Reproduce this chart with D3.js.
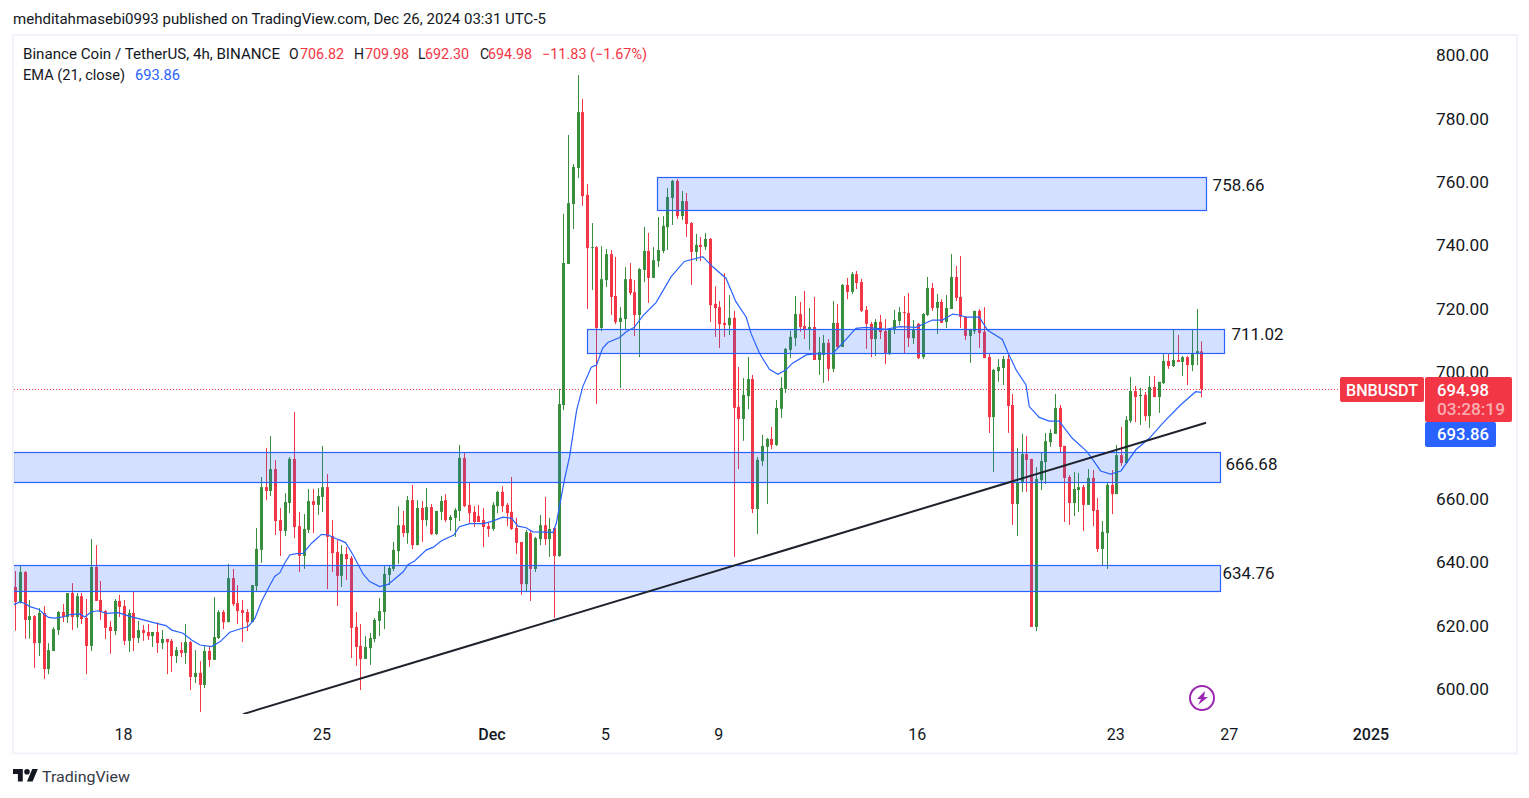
<!DOCTYPE html>
<html>
<head>
<meta charset="utf-8">
<title>BNBUSDT</title>
<script src="https://cdn.jsdelivr.net/npm/d3@7"></script>
<style>
	html, body { margin: 0; padding: 0; background: #fff; overflow: hidden; }
	svg { display: block; }
	text { font-family: Roboto, "Noto Sans", sans-serif; fill: #131722; }
</style>
</head>
<body>
<div id="chart"></div>
<script>
var opens = [
	632.5,627.8,637.2,622.1,623.3,614.8,624.3,606.6,612.3,618.9,
	624.6,623.0,630.6,623.0,629.6,622.7,613.9,638.8,628.4,624.9,
	619.9,618.6,628.1,626.5,615.5,624.3,616.4,618.9,618.3,617.0,
	618.3,614.8,616.1,615.5,610.7,612.6,611.7,615.1,604.1,605.4,
	601.6,612.3,609.5,616.4,624.6,621.4,635.3,627.4,625.2,624.6,
	621.4,632.8,644.2,664.0,662.8,669.7,653.6,650.2,659.0,672.9,
	651.7,642.3,650.5,659.6,658.4,660.9,664.0,648.6,643.5,636.0,
	642.9,641.6,619.9,613.9,609.8,613.2,616.1,621.8,624.6,636.3,
	638.2,643.8,652.0,649.5,659.9,645.7,657.4,653.6,657.7,649.2,
	656.2,659.9,653.6,654.3,656.5,673.2,658.4,656.2,654.9,653.6,
	651.7,650.8,658.0,662.5,658.4,656.2,651.1,646.7,633.4,649.5,
	638.2,647.6,652.0,647.6,651.1,642.3,689.9,734.4,753.3,764.7,
	782.3,756.2,739.4,739.7,714.2,729.3,737.5,724.3,716.1,717.0,
	729.6,725.5,718.3,732.5,738.5,730.0,735.3,738.5,746.0,755.2,
	760.6,749.5,754.2,747.3,738.2,740.4,739.8,742.3,721.8,720.8,
	715.8,715.1,717.4,689.3,685.5,692.7,698.1,657.1,672.2,676.7,
	679.2,677.3,688.7,695.0,707.3,711.0,718.6,714.8,713.6,714.5,
	704.1,705.7,709.5,701.3,715.8,708.2,727.8,725.6,731.2,728.7,
	719.9,715.5,710.7,716.1,713.2,706.0,713.6,716.4,719.2,718.9,
	711.0,715.5,705.0,718.3,726.8,720.5,722.4,716.1,720.2,730.3,
	724.0,717.7,711.7,713.2,719.6,713.0,705.1,686.1,700.6,701.6,
	704.4,689.9,658.7,665.3,674.4,672.9,619.9,666.2,671.9,678.2,
	680.8,689.0,677.0,667.2,659.0,663.1,664.0,658.4,666.9,656.8,
	644.5,649.5,664.7,661.8,674.1,671.6,684.9,694.3,692.7,693.1,
	686.4,695.6,692.4,696.8,703.8,702.2,704.1,703.5,705.0,702.5,706.3,706.82
];
var highs = [
	637.5,639.2,637.5,628.4,623.6,625.8,626.5,614.8,619.8,624.9,
	627.1,630.6,633.7,630.6,630.6,628.7,647.6,645.7,634.4,625.2,
	621.8,628.7,630.0,628.4,625.5,631.0,621.8,620.5,620.8,618.3,
	621.4,618.9,616.1,616.1,613.6,615.1,620.8,615.5,612.6,609.1,
	613.9,613.9,629.3,625.2,625.2,639.8,638.2,633.1,628.4,625.5,
	633.1,651.1,667.2,676.3,680.1,672.5,657.4,662.1,673.5,687.7,
	656.2,655.5,663.4,663.4,663.7,677.0,668.1,653.6,647.3,645.7,
	645.1,642.3,624.6,620.8,617.0,618.0,622.7,629.0,639.4,639.4,
	646.7,658.0,656.5,661.2,664.7,659.9,659.6,663.7,658.7,656.5,
	661.2,661.8,655.2,657.4,677.3,674.8,665.3,658.0,658.4,657.4,
	653.0,659.3,662.8,664.3,659.0,667.2,654.3,646.7,650.5,650.5,
	648.3,655.2,660.9,654.3,651.4,695.0,750.2,775.1,765.9,794.0,
	786.4,759.6,747.3,740.0,740.0,739.1,738.8,736.6,720.8,733.4,
	734.7,729.3,733.1,746.1,744.2,739.7,749.2,749.5,758.4,760.9,
	761.2,757.4,756.8,747.6,743.9,742.9,744.2,742.6,727.4,722.7,
	731.5,724.6,719.6,701.9,698.4,705.1,699.4,673.5,680.5,679.5,
	683.0,691.5,698.7,707.9,713.3,724.3,722.4,725.9,720.5,724.0,
	711.4,712.0,710.7,722.7,721.8,728.1,730.0,731.9,732.2,729.7,
	721.1,716.1,717.0,718.3,717.0,714.2,719.9,720.8,724.3,725.2,
	716.7,715.8,718.9,730.3,728.4,724.9,723.3,724.6,737.5,733.8,
	736.9,718.0,713.9,719.6,720.2,720.8,706.3,701.3,704.4,705.4,
	705.7,693.4,676.3,680.8,680.1,672.9,670.3,675.1,681.1,682.3,
	693.4,689.9,677.0,667.8,668.8,668.5,664.7,669.7,669.4,660.6,
	653.3,665.6,669.4,677.3,683.0,686.4,698.8,695.9,695.3,694.0,
	699.1,699.1,697.2,706.3,706.0,713.6,712.0,705.4,705.4,713.6,720.2,709.98
];
var lows = [
	618.7,627.3,616.2,616.2,607.0,610.7,603.5,605.0,612.3,617.3,
	621.4,621.1,618.9,619.6,620.8,605.0,612.3,628.1,622.1,616.1,
	611.4,617.3,623.0,614.2,612.0,612.3,614.8,615.5,615.8,613.6,
	611.7,612.9,605.0,605.7,608.5,610.4,608.2,600.0,602.2,593.1,
	600.6,607.3,609.5,616.1,619.2,621.4,626.5,620.8,615.1,618.6,
	621.4,631.2,640.1,659.9,661.2,648.9,642.3,648.6,655.8,647.9,
	637.2,638.2,649.5,649.5,655.2,656.2,631.8,637.2,626.5,632.5,
	634.7,610.1,607.6,600.0,609.8,607.9,615.1,617.0,619.2,633.1,
	637.5,639.8,648.3,646.1,644.5,645.7,646.7,651.7,648.9,648.9,
	653.6,653.0,650.2,648.3,653.3,657.7,652.7,651.4,653.0,645.1,
	648.3,650.2,655.8,656.2,651.7,650.5,642.9,630.0,631.2,628.1,
	637.2,645.7,645.7,642.0,622.7,642.0,688.3,734.4,745.4,761.5,
	752.7,720.2,726.2,690.2,713.2,727.1,718.3,715.4,695.3,713.6,
	724.6,711.7,705.0,728.7,722.1,730.0,733.4,737.8,738.8,746.7,
	748.6,748.3,742.9,727.8,735.3,735.3,738.8,716.1,711.4,707.9,
	711.4,712.0,642.0,669.7,678.6,688.6,655.8,649.2,670.7,658.7,
	676.0,677.0,685.8,693.7,704.7,708.5,713.0,710.7,707.3,704.1,
	699.4,696.9,697.5,700.3,707.9,708.2,723.3,724.9,726.5,719.2,
	707.6,705.0,705.4,710.7,702.8,705.7,712.3,715.1,706.0,708.2,
	709.2,704.4,704.4,718.0,719.6,712.3,715.8,714.2,720.2,722.7,
	714.2,710.4,703.2,712.3,707.9,704.7,681.1,668.8,697.2,696.2,
	681.1,652.1,648.6,662.5,662.5,619.9,618.6,663.1,665.0,676.7,
	680.8,674.8,653.0,652.1,654.9,656.2,650.2,658.4,651.7,643.5,
	639.4,638.2,655.5,661.8,670.7,671.6,684.2,684.5,683.6,684.9,
	682.7,692.4,687.4,696.5,701.3,701.9,703.5,699.1,696.2,700.6,702.5,692.30
];
var closes = [
	627.8,637.2,622.1,623.3,614.8,624.3,606.6,612.6,619.2,624.6,
	623.0,630.6,623.0,629.6,622.4,613.9,638.8,628.1,624.6,619.6,
	618.6,628.1,626.2,615.5,624.3,616.4,618.9,618.0,617.0,618.3,
	614.8,616.1,615.1,610.7,612.6,611.7,615.1,604.1,605.4,601.6,
	612.3,609.5,616.7,624.6,621.4,635.3,627.1,624.9,624.3,621.4,
	633.1,644.5,664.0,662.8,669.7,653.3,650.2,659.3,672.9,651.4,
	642.3,650.8,659.6,658.4,661.2,664.0,648.3,643.2,636.0,642.9,
	641.3,619.6,613.6,609.8,613.6,616.4,622.1,624.9,636.6,638.5,
	644.2,652.0,649.5,659.9,645.7,657.4,653.6,657.7,649.2,656.5,
	659.6,653.6,654.6,656.8,673.2,658.0,655.8,653.0,653.0,651.4,
	650.8,658.4,662.5,658.0,655.8,650.8,646.4,633.4,649.8,638.2,
	647.9,652.0,647.6,650.8,642.3,690.2,734.7,753.6,765.0,782.3,
	755.8,739.4,739.7,714.2,729.6,737.5,724.0,716.1,717.4,729.6,
	725.2,718.3,732.8,738.5,730.0,735.6,738.8,746.4,755.5,760.6,
	749.5,754.2,747.0,738.2,740.4,739.8,742.3,721.4,720.5,715.4,
	715.1,717.4,689.0,685.5,693.1,698.1,657.1,672.6,677.0,679.2,
	677.3,689.0,695.3,707.6,711.4,718.6,714.5,713.6,714.5,704.1,
	706.6,709.5,701.3,715.8,708.2,727.8,725.6,731.2,728.4,719.6,
	715.5,710.7,716.1,712.9,706.0,713.9,716.7,719.2,718.9,711.0,
	713.9,704.7,718.6,726.8,720.5,722.4,715.8,720.5,730.3,723.7,
	717.7,711.7,713.9,719.6,712.6,704.7,686.1,701.0,701.9,704.4,
	689.6,658.7,665.6,674.4,672.6,619.9,666.6,672.2,678.5,681.1,
	689.0,676.7,666.9,659.0,663.4,664.0,658.4,666.9,656.5,644.5,
	649.9,664.7,661.8,674.1,671.6,685.2,694.3,692.4,693.1,686.4,
	695.6,692.4,697.2,703.8,702.2,704.1,703.5,705.0,702.5,706.3,706.9,694.98
];

// EMA(21): candle position, value
var emaPos = [
	0.6,2.0,3.05,4.1,5.9,6.9,8.0,9.4,11.2,12.6,14.7,15.7,17.1,18.6,20.3,22.8,24.2,26.0,28.1,30.9,
	32.9,34.1,36.5,38.3,40.1,42.5,44.3,46.4,48.2,50.3,51.7,53.1,54.9,55.9,57.0,58.0,59.1,60.5,61.9,63.7,
	65.8,67.2,69.3,70.9,72.5,74.6,76.0,78.1,79.9,81.6,83.1,84.1,85.5,88.0,89.4,91.2,93.8,95.0,97.2,100.0,
	101.7,104.2,106.0,107.4,109.1,110.5,114.8,115.5,117.2,118.3,119.8,121.1,122.9,124.0,125.3,126.4,128.9,130.3,132.0,133.8,
	136.6,139.8,142.6,146.5,148.6,151.4,153.5,155.7,156.7,158.5,160.6,162.4,164.1,165.5,168.4,170.1,174.0,176.1,178.9,181.0,
	185.3,188.1,191.6,195.1,197.2,199.4,200.8,202.2,205.0,206.8,209.9,211.0,212.8,214.9,215.6,217.7,219.8,221.9,224.7,227.6,
	228.6,230.7,232.8,235.0,238.1,241.0,243.8,247.6,250.8,252
];
var emaVal = [
	626.9,627.8,627.3,626.3,625.5,624.2,622.9,622.7,623.1,623.8,624.0,623.0,624.7,625.0,624.2,624.4,623.7,622.9,622.1,621.0,
	620.3,618.9,617.9,615.8,614.2,613.7,615.2,618.2,619.1,620.0,622.6,627.9,633.1,635.8,637.0,640.0,642.6,643.0,643.1,646.3,
	649.1,648.9,647.5,646.5,642.6,636.6,634.2,632.6,633.3,635.4,637.3,639.5,640.7,644.2,645.0,647.1,648.9,651.5,652.5,652.5,
	653.1,654.5,654.2,651.7,651.2,649.9,649.7,652.6,666.2,673.6,688.3,695.7,701.8,702.5,707.8,709.6,711.2,713.0,714.4,718.0,
	722.2,730.4,735.2,736.7,733.5,729.9,722.5,717.6,712.5,706.2,701.2,699.6,701.0,703.1,705.7,706.0,706.2,709.4,714.1,714.4,
	713.8,714.6,714.4,716.7,716.7,718.6,718.3,717.6,717.6,713.5,710.6,706.7,701.0,696.2,689.4,686.0,684.8,684.8,679.4,675.5,
	673.6,669.1,668.1,669.1,675.7,679.4,684.1,689.9,694.1,693.86
];

var priceTicks = [600,620,640,660,680,700,720,740,760,780,800];
var timeTickPos = [24,66,102,126,150,192,234,258,288];
var timeTickLabels = ["18","25","Dec","5","9","16","23","27","2025"];
var boldTicks = ["Dec","2025"];

// zones: candle position start/end, price top/bottom, label
var zoneStart = [136.8,122.0,0.51,0.51];
var zoneEnd = [253.0,256.8,255.9,255.9];
var zoneTop = [761.7,713.9,675.1,639.4];
var zoneBottom = [751.3,706.3,665.6,631.2];
var zoneLabels = ["758.66","711.02","666.68","634.76"];
var zoneLabelPos = [254.4,258.4,257.1,256.5];
var zoneLabelPrice = [759.3,712.3,671.3,636.9];

var trendPos = [49.2,253.0];
var trendPrice = [592.4,684.3];

var lastPrice = 694.98;
var emaLast = 693.86;

var width = 1529, height = 798;
var up = "#388e3c", down = "#f23645", blue = "#2962ff";

var x = d3.scaleLinear().domain([1,252]).range([15.3,1201.3]);
var y = d3.scaleLinear().domain([600,800]).range([690,56]);

var svg = d3.select("#chart").append("svg")
	.attr("width", width)
	.attr("height", height);

// the published font is wider than anything installed, stretch to the same width
function fit(sel, len) {
	return sel.attr("textLength", len).attr("lengthAdjust", "spacingAndGlyphs");
}

fit(svg.append("text")
	.attr("x", 13).attr("y", 24)
	.style("font-size", "14px")
	.text("mehditahmasebi0993 published on TradingView.com, Dec 26, 2024 03:31 UTC-5"), 533);

// frame
svg.append("rect")
	.attr("x", 13).attr("y", 35)
	.attr("width", 1504).attr("height", 718.5)
	.attr("fill", "none")
	.attr("stroke", "#f0f3fa")
	.attr("stroke-width", 2);

svg.append("defs").append("clipPath").attr("id", "pane")
	.append("rect")
	.attr("x", 14).attr("y", 36)
	.attr("width", 1502).attr("height", 678);

var pane = svg.append("g").attr("clip-path", "url(#pane)");

// last price line
pane.append("line")
	.attr("x1", 14).attr("x2", 1340)
	.attr("y1", Math.round(y(lastPrice)) + 0.5).attr("y2", Math.round(y(lastPrice)) + 0.5)
	.attr("stroke", down)
	.attr("stroke-dasharray", "1 2");

var candles = d3.range(opens.length).map(function(i) {
	return { pos: i + 1, o: opens[i], h: highs[i], l: lows[i], c: closes[i] };
});

pane.selectAll(".wick").data(candles).enter().append("rect")
	.attr("class", "wick")
	.attr("x", function(d) { return Math.round(x(d.pos)); })
	.attr("width", 1)
	.attr("y", function(d) { return y(d.h); })
	.attr("height", function(d) { return y(d.l) - y(d.h); })
	.attr("fill", function(d) { return d.c >= d.o ? up : down; });

pane.selectAll(".body").data(candles).enter().append("rect")
	.attr("class", "body")
	.attr("x", function(d) { return Math.round(x(d.pos)) - 1; })
	.attr("width", 3)
	.attr("y", function(d) { return y(Math.max(d.o, d.c)); })
	.attr("height", function(d) { return Math.max(1, Math.abs(y(d.o) - y(d.c))); })
	.attr("fill", function(d) { return d.c >= d.o ? up : down; });

var emaLine = d3.line()
	.x(function(d, i) { return x(emaPos[i]); })
	.y(function(d) { return y(d); });

pane.append("path")
	.attr("d", emaLine(emaVal))
	.attr("fill", "none")
	.attr("stroke", blue)
	.attr("stroke-width", 1.2);

zoneLabels.forEach(function(label, i) {
	var x1 = Math.round(x(zoneStart[i])), x2 = Math.round(x(zoneEnd[i]));
	pane.append("rect")
		.attr("x", x1 + 0.5)
		.attr("y", Math.round(y(zoneTop[i])) + 0.5)
		.attr("width", x2 - x1)
		.attr("height", Math.round(y(zoneBottom[i]) - y(zoneTop[i])))
		.attr("fill", blue)
		.attr("fill-opacity", 0.2)
		.attr("stroke", blue)
		.attr("stroke-width", 1.2);
	fit(pane.append("text")
		.attr("x", x(zoneLabelPos[i]))
		.attr("y", y(zoneLabelPrice[i]))
		.attr("dy", "0.35em")
		.style("font-size", "16px")
		.text(label), 52);
});

pane.append("line")
	.attr("x1", x(trendPos[0])).attr("y1", y(trendPrice[0]))
	.attr("x2", x(trendPos[1])).attr("y2", y(trendPrice[1]))
	.attr("stroke", "#1e222d")
	.attr("stroke-width", 2);

// axes
var yAxis = svg.append("g")
	.attr("transform", "translate(1489,-0.5)")
	.call(d3.axisLeft(y).tickValues(priceTicks).tickSize(0).tickPadding(0).tickFormat(d3.format(".2f")));
yAxis.select(".domain").remove();
yAxis.selectAll("text")
	.style("font-size", "16px")
	.style("font-family", "Roboto")
	.attr("textLength", 53)
	.attr("lengthAdjust", "spacingAndGlyphs");

var xAxis = svg.append("g")
	.attr("transform", "translate(-1,729)")
	.call(d3.axisBottom(x).tickValues(timeTickPos).tickSize(0).tickPadding(0)
		.tickFormat(function(d, i) { return timeTickLabels[i]; }));
xAxis.select(".domain").remove();
xAxis.selectAll("text")
	.style("font-size", "16px")
	.style("font-family", "Roboto")
	.style("font-weight", function(d, i) { return boldTicks.indexOf(timeTickLabels[i]) >= 0 ? 500 : 400; });

// price labels
function tag(x0, y0, w, h, fill) {
	svg.append("rect")
		.attr("x", x0).attr("y", y0)
		.attr("width", w).attr("height", h)
		.attr("rx", 2)
		.attr("fill", fill);
}
function tagText(x0, y0, str, opacity, len) {
	fit(svg.append("text")
		.attr("x", x0).attr("y", y0)
		.attr("dy", "0.35em")
		.style("font-size", "16px")
		.style("font-weight", 500)
		.style("fill", "#fff")
		.style("fill-opacity", opacity)
		.text(str), len);
}
tag(1340, 377, 84, 25, down);
tag(1425, 377, 87, 45, down);
tag(1425, 422, 71, 25, blue);
tagText(1346, 390, "BNBUSDT", 1, 72);
tagText(1437, 390, d3.format(".2f")(lastPrice), 1, 52);
tagText(1437, 409, "03:28:19", 0.6, 68);
tagText(1437, 434, d3.format(".2f")(emaLast), 1, 52);

// legend
var legend = svg.append("g").style("font-size", "14px");
fit(legend.append("text").attr("x", 23).attr("y", 59).text("Binance Coin / TetherUS, 4h, BINANCE"), 257);
var ohlcLabels = ["O","H","L","C"];
var ohlcValues = ["706.82","709.98","692.30","694.98"];
var ohlcX = [289,354,418,480];
var ohlcValX = [300,365,425,488];
ohlcLabels.forEach(function(l, i) {
	legend.append("text").attr("x", ohlcX[i]).attr("y", 59).text(l);
	fit(legend.append("text").attr("x", ohlcValX[i]).attr("y", 59).style("fill", down).text(ohlcValues[i]), 44);
});
fit(legend.append("text").attr("x", 542).attr("y", 59).style("fill", down).text("\u221211.83 (\u22121.67%)"), 105);
fit(legend.append("text").attr("x", 23).attr("y", 80).text("EMA (21, close)"), 102);
fit(legend.append("text").attr("x", 135).attr("y", 80).style("fill", blue).text("693.86"), 45);

// flash icon
var flash = svg.append("g").attr("transform", "translate(1202,698)");
flash.append("circle")
	.attr("r", 12)
	.attr("fill", "#fff")
	.attr("stroke", "#9c27b0")
	.attr("stroke-width", 2);
flash.append("path")
	.attr("d", "M3-7L-5 1h4l-3 6L6-1H2z")
	.attr("fill", "#9c27b0");

// logo
var logo = svg.append("g").attr("transform", "translate(13,766.2) scale(0.7)").attr("fill", "#131722");
logo.append("path").attr("d", "M14 22H7V11H0V4h14v18zM28 22h-8l7.5-18h8L28 22z");
logo.append("circle").attr("cx", 20).attr("cy", 8).attr("r", 4);
fit(svg.append("text")
	.attr("x", 42).attr("y", 782)
	.style("font-size", "15px")
	.style("fill", "#363a45")
	.text("TradingView"), 88);
</script>
</body>
</html>
